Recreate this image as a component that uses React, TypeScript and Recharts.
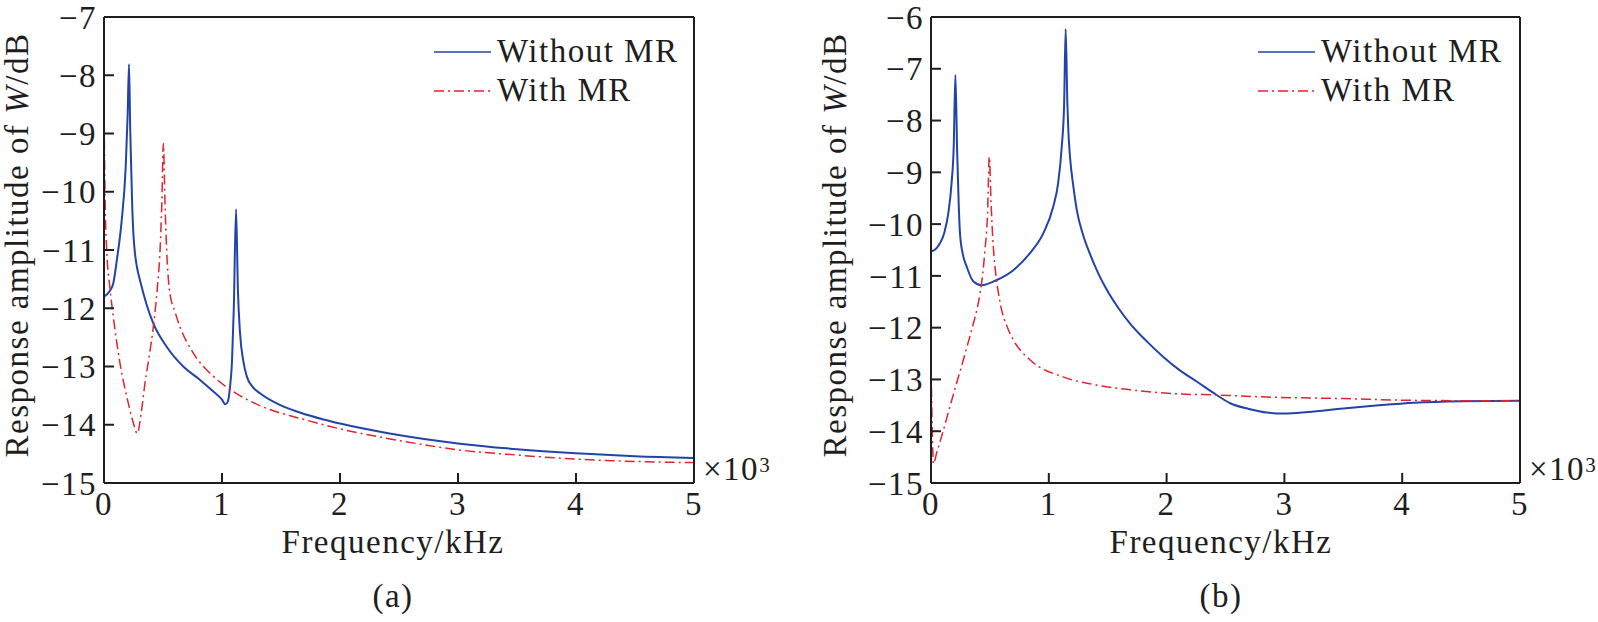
import React from "react"
import { LineChart, Line, XAxis, YAxis, Legend, Label } from "recharts"

const FONT = '"Liberation Serif", Tinos, "Times New Roman", Times, "DejaVu Serif", "Noto Serif", serif'
const INK = "#1e1e1e"
const BLUE = "#2443a6"
const RED = "#e3232d"
const DASH = "10 4 2 4"

// x values are in units of 10^3 (tick labels 0..5)
const freqTicks = [0, 1, 2, 3, 4, 5]
const aYTicks = [-15, -14, -13, -12, -11, -10, -9, -8, -7]
const bYTicks = [-15, -14, -13, -12, -11, -10, -9, -8, -7, -6]

// panel (a)
const aWithoutFreq = [0, 0.05, 0.079, 0.107, 0.15, 0.184, 0.2, 0.212, 0.222, 0.232, 0.24, 0.25, 0.262, 0.28, 0.305, 0.36, 0.418, 0.531, 0.672, 0.814, 0.927, 1.0, 1.028, 1.05, 1.068, 1.085, 1.1, 1.119, 1.135, 1.153, 1.18, 1.21, 1.26, 1.322, 1.49, 1.66, 1.86, 2.0, 2.42, 3.0, 3.5, 4.0, 4.5, 5.0]
const aWithoutW = [-11.8, -11.7, -11.57, -11.2, -10.49, -9.57, -8.7, -7.81, -8.9, -9.7, -10.3, -10.75, -11.05, -11.3, -11.52, -11.93, -12.26, -12.66, -13.0, -13.23, -13.43, -13.57, -13.65, -13.6, -13.35, -12.9, -12.0, -10.3, -11.7, -12.43, -12.9, -13.17, -13.35, -13.46, -13.66, -13.79, -13.91, -13.98, -14.15, -14.32, -14.42, -14.49, -14.54, -14.57]
const aWithFreq = [0, 0.004, 0.01, 0.023, 0.05, 0.079, 0.136, 0.206, 0.25, 0.282, 0.315, 0.347, 0.385, 0.418, 0.45, 0.475, 0.49, 0.503, 0.517, 0.531, 0.559, 0.6, 0.644, 0.757, 0.927, 1.096, 1.379, 1.66, 2.0, 2.5, 3.0, 3.5, 4.0, 4.5, 5.0]
const aWithW = [-8.42, -9.3, -10.2, -11.0, -11.65, -12.15, -12.95, -13.63, -13.98, -14.15, -13.8, -13.29, -12.8, -12.32, -11.7, -11.0, -10.2, -9.17, -10.2, -11.0, -11.75, -12.05, -12.32, -12.77, -13.17, -13.43, -13.72, -13.89, -14.07, -14.27, -14.43, -14.52, -14.59, -14.63, -14.65]

// panel (b)
const bWithoutFreq = [0, 0.04, 0.076, 0.115, 0.147, 0.175, 0.193, 0.207, 0.222, 0.235, 0.246, 0.27, 0.303, 0.36, 0.43, 0.558, 0.699, 0.84, 0.953, 1.038, 1.08, 1.11, 1.13, 1.143, 1.158, 1.166, 1.18, 1.209, 1.237, 1.29, 1.35, 1.42, 1.49, 1.59, 1.69, 1.83, 1.97, 2.11, 2.255, 2.425, 2.54, 2.7, 2.85, 3.0, 3.2, 3.5, 3.8, 4.1, 4.5, 5.0]
const bWithoutW = [-10.53, -10.48, -10.37, -10.15, -9.79, -9.2, -8.5, -7.12, -8.6, -9.6, -10.18, -10.58, -10.82, -11.11, -11.18, -11.08, -10.89, -10.56, -10.18, -9.66, -9.2, -8.5, -7.7, -6.23, -7.7, -8.2, -8.7, -9.28, -9.72, -10.2, -10.58, -10.95, -11.26, -11.62, -11.92, -12.26, -12.56, -12.82, -13.04, -13.3, -13.46, -13.57, -13.64, -13.66, -13.63, -13.56, -13.5, -13.45, -13.42, -13.41]
const bWithFreq = [0, 0.01, 0.02, 0.05, 0.09, 0.16, 0.22, 0.275, 0.32, 0.36, 0.416, 0.44, 0.458, 0.48, 0.495, 0.51, 0.525, 0.543, 0.57, 0.6, 0.65, 0.7, 0.84, 1.12, 1.41, 1.69, 2.11, 2.425, 2.85, 3.5, 4.0, 4.5, 5.0]
const bWithW = [-12.76, -13.9, -14.63, -14.4, -14.1, -13.53, -13.05, -12.62, -12.25, -11.92, -11.34, -10.95, -10.5, -9.8, -8.7, -9.6, -10.3, -10.82, -11.3, -11.66, -12.0, -12.24, -12.62, -12.95, -13.11, -13.2, -13.28, -13.3, -13.34, -13.37, -13.4, -13.41, -13.41]

const legendNames = ["Without MR", "With MR"]

const toPoints = (f: number[], w: number[]) => f.map((x, i) => ({ f: x, w: w[i] }))
const minus = (v: number) => String(v).replace("-", "\u2212")

const textStyle = { fill: INK, fontSize: 33, fontFamily: FONT, letterSpacing: 1.5 }

interface PanelProps {
  left: number
  width: number
  margin: { top: number; right: number; bottom: number; left: number }
  yTicks: number[]
  without: { f: number; w: number }[]
  withMR: { f: number; w: number }[]
  caption: string
  titleX: number
  yLabelX: number
  legendLeft: number
}

function renderLegend() {
  return (
    <div style={{ fontFamily: FONT, fontSize: 33, color: INK, letterSpacing: 1.5 }}>
      {legendNames.map((name, i) => (
        <div key={name} style={{ display: "flex", alignItems: "center", height: 39 }}>
          <svg width={57} height={6} style={{ marginRight: 6 }}>
            <line x1={0} y1={3} x2={57} y2={3} stroke={i === 0 ? BLUE : RED} strokeWidth={1.4}
              strokeDasharray={i === 0 ? undefined : DASH} />
          </svg>
          <span>{name}</span>
        </div>
      ))}
    </div>
  )
}

function Panel(p: PanelProps) {
  const plotRight = p.width - p.margin.right
  const yDomain = [p.yTicks[0], p.yTicks[p.yTicks.length - 1]]
  return (
    <div style={{ position: "absolute", left: p.left, top: 0 }}>
      <LineChart width={p.width} height={622} margin={p.margin}>
        <XAxis dataKey="f" type="number" domain={[0, 5]} ticks={freqTicks} interval={0} height={1}
          allowDataOverflow tickSize={-10} tickMargin={19}
          axisLine={{ stroke: INK, strokeWidth: 2 }} tickLine={{ stroke: INK, strokeWidth: 2 }}
          tick={textStyle}>
          <Label content={() => (
            <text x={p.titleX} y={553} textAnchor="middle" style={textStyle}>Frequency/kHz</text>
          )} />
          <Label content={() => (
            <text x={p.titleX} y={607} textAnchor="middle" style={textStyle}>{p.caption}</text>
          )} />
          <Label content={() => (
            <text x={plotRight + 8} y={480} style={textStyle}>
              ×10<tspan dy={-8} fontSize={21}>3</tspan>
            </text>
          )} />
        </XAxis>
        <XAxis xAxisId="top" orientation="top" type="number" domain={[0, 5]} height={1}
          tick={false} tickLine={false} axisLine={{ stroke: INK, strokeWidth: 2 }} />
        <YAxis type="number" domain={yDomain} ticks={p.yTicks} interval={0} width={1}
          allowDataOverflow tickSize={-10} tickMargin={17} tickFormatter={minus}
          axisLine={{ stroke: INK, strokeWidth: 2 }} tickLine={{ stroke: INK, strokeWidth: 2 }}
          tick={textStyle}>
          <Label content={() => (
            <text x={p.yLabelX} y={245} textAnchor="middle" transform={`rotate(-90 ${p.yLabelX} 245)`}
              style={textStyle}>
              Response amplitude of <tspan fontStyle="italic">W</tspan>/dB
            </text>
          )} />
        </YAxis>
        <YAxis yAxisId="right" orientation="right" type="number" domain={yDomain} width={1}
          tick={false} tickLine={false} axisLine={{ stroke: INK, strokeWidth: 2 }} />
        <Legend layout="vertical" align="center" verticalAlign="middle" content={renderLegend}
          wrapperStyle={{ left: p.legendLeft, top: 32, width: "auto", height: "auto" }} />
        <Line data={p.without} dataKey="w" type="monotone" stroke={BLUE} strokeWidth={2}
          dot={false} activeDot={false} isAnimationActive={false} />
        <Line data={p.withMR} dataKey="w" type="monotone" stroke={RED} strokeWidth={1.5}
          strokeDasharray={DASH} dot={false} activeDot={false} isAnimationActive={false} />
      </LineChart>
    </div>
  )
}

export default function App() {
  return (
    <div style={{ position: "absolute", left: 0, top: 0, width: 1598, height: 622, background: "#fff" }}>
      <Panel left={0} width={800} margin={{ top: 16, right: 105, bottom: 138, left: 103 }}
        yTicks={aYTicks} without={toPoints(aWithoutFreq, aWithoutW)} withMR={toPoints(aWithFreq, aWithW)}
        caption="(a)" titleX={393} yLabelX={28} legendLeft={434} />
      <Panel left={800} width={798} margin={{ top: 16, right: 77, bottom: 138, left: 130 }}
        yTicks={bYTicks} without={toPoints(bWithoutFreq, bWithoutW)} withMR={toPoints(bWithFreq, bWithW)}
        caption="(b)" titleX={421} yLabelX={46} legendLeft={458} />
    </div>
  )
}
